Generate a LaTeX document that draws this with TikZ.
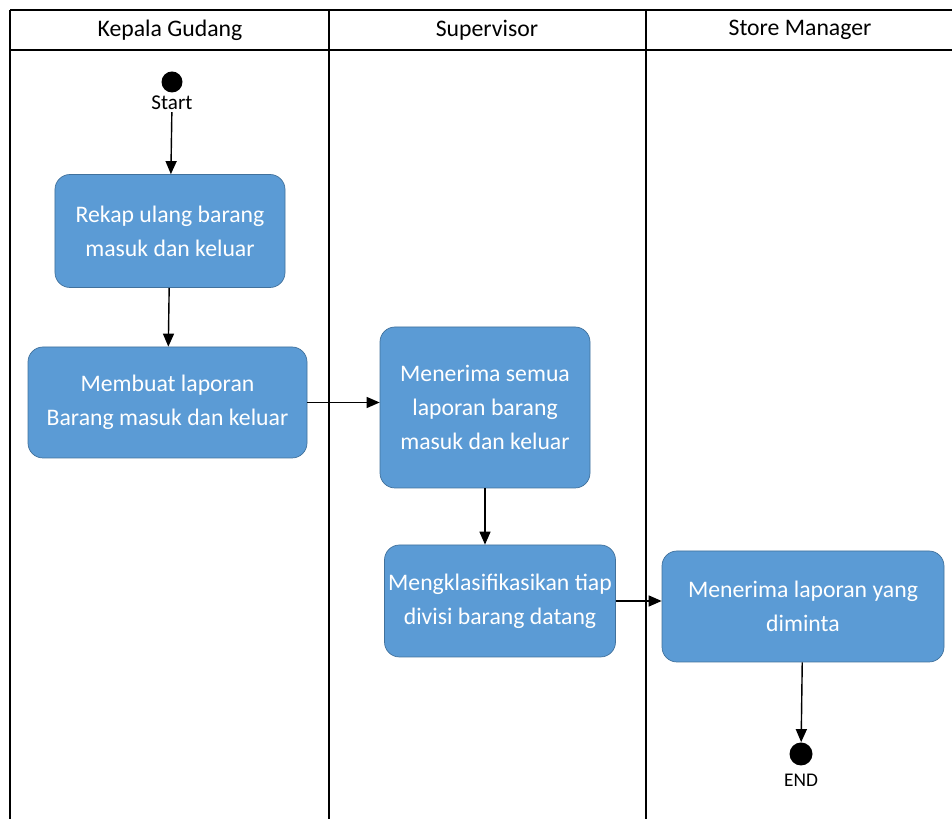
\documentclass[tikz,border=0pt]{standalone}
\usepackage{fontspec}
\setmainfont{Carlito}
\usetikzlibrary{arrows.meta}

\definecolor{actfill}{HTML}{5B9BD5}
\definecolor{actline}{HTML}{41719C}

\begin{document}
\begin{tikzpicture}[
  activity/.style={draw=actline,fill=actfill,rounded corners=0.3cm,text=white,align=center,font=\fontsize{13.5}{19.5}\selectfont,inner sep=0pt},
  lane/.style={font=\fontsize{13.5}{16}\selectfont},
  dot/.style={circle,fill=black,inner sep=0pt},
  flow/.style={-{Triangle[length=2.6mm,width=2.2mm]},draw=black,thick}
]
\useasboundingbox (0,0) rectangle (19.04,-16.38);

% swimlanes
\draw[thick] (0.2,-0.2) -- (19.04,-0.2);
\draw[thick] (0.2,-1.0) -- (19.04,-1.0);
\draw[thick] (0.2,-0.2) -- (0.2,-16.38);
\draw[thick] (6.58,-0.2) -- (6.58,-16.38);
\draw[thick] (12.92,-0.2) -- (12.92,-16.38);

\node[lane](kepala gudang) at (3.4,-0.6) {Kepala Gudang};
\node[lane](supervisor) at (9.74,-0.6) {Supervisor};
\node[lane](store manager) at (16.0,-0.6) {Store Manager};

\node[dot,minimum size=0.42cm](start) at (3.44,-1.64) {};
\node[font=\fontsize{12}{14}\selectfont,inner sep=1pt](start label) at (3.44,-2.06) {Start};

\node[activity,minimum width=4.6cm,minimum height=2.26cm](rekap) at (3.4,-4.62) {Rekap ulang barang\\masuk dan keluar};
\node[activity,minimum width=5.58cm,minimum height=2.22cm](membuat laporan) at (3.35,-8.05) {Membuat laporan\\Barang masuk dan keluar};
\node[activity,minimum width=4.2cm,minimum height=3.22cm](menerima semua) at (9.7,-8.15) {Menerima semua\\laporan barang\\masuk dan keluar};
\node[activity,minimum width=4.62cm,minimum height=2.24cm](klasifikasi) at (10.0,-12.02) {Mengklasifikasikan tiap\\divisi barang datang};
\node[activity,minimum width=5.64cm,minimum height=2.22cm](menerima laporan) at (16.06,-12.13) {Menerima laporan yang\\diminta};

\node[dot,minimum size=0.46cm](end) at (16.02,-15.08) {};
\node[font=\fontsize{11}{13}\selectfont,inner sep=1pt](end label) at (16.02,-15.6) {END};

\draw[flow] (start label) to (rekap);
\draw[flow] (rekap) to (membuat laporan);
\draw[flow] (membuat laporan.east) to (membuat laporan.east -| menerima semua.west);
\draw[flow] (menerima semua.south) to (menerima semua.south |- klasifikasi.north);
\draw[flow] (klasifikasi.east) to (klasifikasi.east -| menerima laporan.west);
\draw[flow] (menerima laporan) to (end);

\end{tikzpicture}
\end{document}
